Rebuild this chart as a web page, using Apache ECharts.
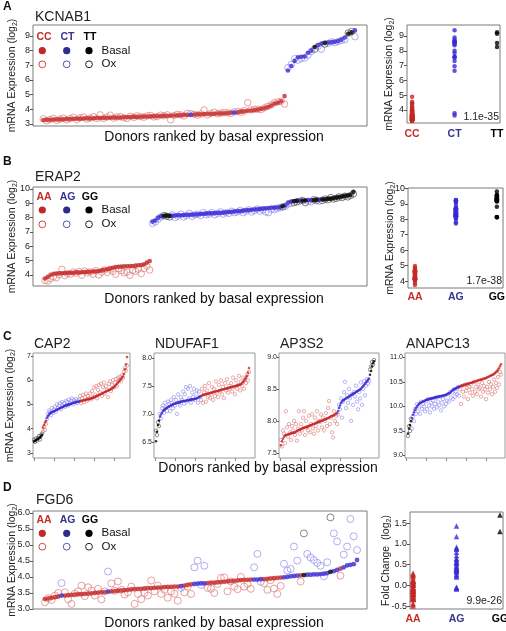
<!DOCTYPE html>
<html><head><meta charset="utf-8">
<script src="https://cdn.jsdelivr.net/npm/echarts@6.0.0/dist/echarts.min.js"></script>
<style>html,body{margin:0;padding:0;background:#fff}#c{width:506px;height:631px}</style>
</head><body><div id="c"></div>
<script>
// ---------------- DATA ----------------
// genotype codes: 0 = CC/AA (red), 1 = CT/AG (blue), 2 = TT/GG (black)
const kcnab1Basal=[3.27,3.28,3.29,3.30,3.30,3.31,3.32,3.33,3.34,3.35,
 3.35,3.36,3.37,3.38,3.38,3.39,3.40,3.40,3.41,3.42,
 3.42,3.43,3.44,3.44,3.45,3.46,3.47,3.48,3.48,3.49,
 3.50,3.51,3.52,3.52,3.53,3.54,3.55,3.56,3.57,3.58,
 3.59,3.60,3.61,3.62,3.63,3.64,3.65,3.66,3.67,3.68,
 3.69,3.70,3.71,3.72,3.73,3.74,3.76,3.78,3.80,3.84,
 3.87,3.90,3.92,3.95,3.98,4.02,4.08,4.15,4.25,4.40,
 4.45,4.55,4.90,6.65,6.95,7.30,7.55,7.58,7.60,7.85,
 8.00,8.25,8.38,8.48,8.52,8.55,8.58,8.60,8.65,8.75,
 8.90,9.15,9.25,9.38];
const kcnab1Ox=[3.35,3.22,3.30,3.38,3.25,3.33,3.40,3.28,3.36,3.45,
 3.30,3.42,3.48,3.33,3.40,3.50,3.36,3.62,3.38,3.47,
 3.60,3.40,3.48,3.50,3.42,3.38,3.52,3.45,3.55,3.50,
 3.46,3.55,3.58,3.48,3.50,3.60,3.55,3.62,3.28,3.58,
 3.65,3.62,3.55,3.72,3.70,3.66,3.60,3.68,3.95,3.62,
 3.72,3.80,3.70,3.74,3.78,3.76,3.72,3.82,3.85,3.80,
 3.90,4.45,3.95,4.00,4.00,3.98,4.10,4.20,4.30,4.45,
 4.50,4.55,4.35,6.85,7.05,7.45,7.35,7.45,7.50,7.70,
 7.95,8.10,8.30,8.10,8.45,8.50,8.60,8.55,8.62,8.70,
 8.75,9.20,9.30,8.95];
const kcnab1Geno='0000000000 0000000000 0000000000 0000000000 0000100000 0000000100 0000000000 0001111111 1211211111 1221';
const kcnab1Labels=['CC','CT','TT'];

const erap2Basal=[3.75,3.88,4.02,4.08,4.10,4.11,4.12,4.13,4.14,4.15,
 4.16,4.17,4.18,4.19,4.20,4.21,4.22,4.24,4.26,4.28,
 4.32,4.36,4.40,4.44,4.50,4.55,4.57,4.58,4.60,4.61,
 4.62,4.63,4.65,4.68,4.70,4.74,4.86,4.98,7.72,7.80,
 8.00,8.10,8.13,8.14,8.12,8.14,8.15,8.16,8.17,8.18,
 8.19,8.20,8.21,8.22,8.23,8.25,8.27,8.28,8.30,8.31,
 8.32,8.33,8.34,8.35,8.37,8.39,8.41,8.43,8.45,8.47,
 8.49,8.51,8.53,8.55,8.57,8.59,8.61,8.63,8.65,8.67,
 8.69,8.70,8.71,8.72,8.80,8.86,9.05,9.12,9.15,9.17,
 9.18,9.19,9.20,9.21,9.22,9.23,9.24,9.25,9.27,9.29,
 9.31,9.33,9.36,9.40,9.44,9.48,9.52,9.55,9.58,9.80];
const erap2Ox=[3.62,3.58,3.75,3.88,3.80,4.02,4.40,3.95,4.10,4.05,
 4.20,4.12,4.25,3.98,4.28,4.15,4.22,4.05,4.30,4.00,
 4.20,4.35,4.18,4.40,4.25,4.05,4.45,4.30,4.15,4.20,
 3.98,4.32,4.25,4.40,4.10,4.45,4.62,4.35,7.60,7.70,
 7.90,8.05,8.15,8.10,8.05,8.20,8.00,8.10,8.25,8.05,
 8.15,8.30,8.10,8.20,8.25,8.15,8.35,8.20,8.25,8.35,
 8.20,8.30,8.40,8.25,8.35,8.30,8.45,8.35,8.40,8.50,
 8.35,8.45,8.55,8.40,8.50,8.60,8.45,8.55,8.40,8.35,
 8.60,8.55,8.65,8.70,8.75,8.80,8.95,9.00,9.05,9.10,
 9.15,9.20,9.05,9.15,9.10,9.25,9.20,9.15,9.20,9.30,
 9.25,9.40,9.30,9.35,9.45,9.40,9.50,9.45,9.55,9.65];
const erap2Geno='0000000000 0000000000 0000000000 0000000011 1122211111 1111111111 1111111111 1111111111 1111211122 1221122122 2222222222';
const abLabels=['AA','AG','GG'];

const cap2Basal=[3.47,3.50,3.52,3.55,3.58,3.60,3.63,3.68,3.75,4.05,
 4.15,4.25,4.32,4.45,4.52,4.58,4.62,4.66,4.68,4.70,
 4.72,4.74,4.76,4.78,4.80,4.82,4.84,4.86,4.88,4.90,
 4.92,4.94,4.96,4.97,4.98,5.00,5.01,5.03,5.04,5.06,
 5.07,5.08,5.09,5.10,5.11,5.12,5.13,5.14,5.15,5.16,
 5.17,5.18,5.19,5.20,5.21,5.22,5.23,5.24,5.26,5.27,
 5.29,5.31,5.33,5.35,5.37,5.39,5.41,5.43,5.45,5.47,
 5.49,5.51,5.53,5.55,5.57,5.59,5.61,5.63,5.66,5.69,
 5.72,5.76,5.80,5.85,5.90,5.95,6.00,6.05,6.10,6.15,
 6.25,6.45,6.65,6.95];
const cap2Ox=[3.55,3.45,3.60,3.50,3.62,3.70,3.55,3.72,3.80,3.88,
 4.05,3.95,4.20,4.40,4.60,4.75,4.70,4.55,4.85,4.65,
 4.80,4.90,4.70,5.00,4.85,4.95,5.05,4.80,5.10,4.95,
 5.05,4.90,5.15,5.10,4.95,5.20,5.05,5.15,5.25,5.00,
 5.18,5.10,5.22,5.05,5.15,5.20,5.35,5.05,5.25,5.40,
 5.10,5.30,5.45,5.15,5.35,5.25,5.45,5.20,5.55,5.30,
 5.70,5.40,5.75,5.25,5.60,5.80,5.50,5.85,5.35,5.70,
 5.90,5.45,5.75,5.60,5.30,5.85,5.95,5.55,5.80,6.00,
 5.70,5.90,6.05,5.75,6.10,6.00,6.15,5.95,6.20,6.10,
 6.35,6.50,6.40,6.60];
const cap2Geno='2222222220 0001111111 1111111111 1111111111 1111110000 0000000000 0000000000 0000000000 0000000000 0000';

const ndufaf1Basal=[6.51,6.68,6.80,6.88,6.95,6.99,7.02,7.05,7.07,7.08,
 7.10,7.11,7.12,7.13,7.14,7.15,7.16,7.17,7.18,7.18,
 7.19,7.20,7.20,7.21,7.21,7.22,7.22,7.23,7.23,7.23,
 7.24,7.24,7.24,7.25,7.25,7.25,7.26,7.26,7.26,7.27,
 7.27,7.28,7.29,7.30,7.31,7.32,7.33,7.34,7.34,7.35,
 7.35,7.36,7.36,7.37,7.37,7.38,7.38,7.39,7.39,7.40,
 7.40,7.41,7.41,7.42,7.42,7.43,7.43,7.44,7.44,7.45,
 7.45,7.46,7.46,7.47,7.47,7.48,7.48,7.49,7.49,7.50,
 7.50,7.51,7.51,7.52,7.52,7.53,7.55,7.57,7.59,7.62,
 7.65,7.68,7.74,7.82];
const ndufaf1Ox=[6.70,6.62,6.85,6.78,7.00,6.92,7.10,7.15,7.02,7.20,
 7.12,7.05,7.22,7.18,7.05,7.25,7.20,7.10,7.30,7.15,
 7.25,7.00,7.35,7.20,7.15,7.30,7.25,7.40,7.18,7.35,
 7.48,7.22,7.45,7.28,7.50,7.20,7.38,7.30,7.45,7.25,
 7.35,7.42,7.20,7.40,7.30,7.25,7.45,7.20,7.38,7.50,
 7.22,7.42,7.30,7.55,7.28,7.35,7.48,7.25,7.45,7.32,
 7.58,7.38,7.30,7.52,7.40,7.60,7.35,7.48,7.28,7.55,
 7.42,7.62,7.38,7.50,7.45,7.55,7.40,7.65,7.48,7.35,
 7.60,7.45,7.52,7.68,7.42,7.58,7.50,7.65,7.45,7.62,
 7.55,7.70,7.60,7.75];
const ndufaf1Geno='2222111111 1111111111 1111111111 1111111111 1111100000 0000000000 0000000000 0000000000 0000000000 0000';

const ap3s2Basal=[7.62,7.68,7.72,7.75,7.77,7.78,7.78,7.79,7.79,7.80,
 7.80,7.81,7.81,7.82,7.82,7.83,7.84,7.85,7.86,7.86,
 7.87,7.88,7.89,7.89,7.90,7.90,7.91,7.91,7.92,7.93,
 7.93,7.94,7.95,7.95,7.96,7.97,7.97,7.98,7.99,7.99,
 8.00,8.00,8.01,8.02,8.02,8.03,8.04,8.04,8.05,8.06,
 8.07,8.08,8.08,8.09,8.10,8.11,8.12,8.15,8.20,8.24,
 8.28,8.30,8.32,8.33,8.34,8.35,8.36,8.37,8.38,8.39,
 8.40,8.41,8.42,8.43,8.44,8.45,8.46,8.47,8.48,8.49,
 8.50,8.52,8.54,8.56,8.58,8.60,8.62,8.64,8.66,8.72,
 8.78,8.85,8.90,8.93];
const ap3s2Ox=[7.70,7.60,7.85,7.80,7.65,8.15,7.90,7.75,7.95,7.82,
 7.70,7.92,7.85,8.00,7.78,7.95,7.69,7.88,8.15,7.80,
 7.95,7.85,8.05,8.15,7.78,8.00,7.90,7.85,8.08,7.82,
 7.95,8.10,7.88,7.80,8.05,7.92,8.15,7.85,8.00,7.98,
 8.10,7.90,8.05,7.85,8.00,8.12,7.92,8.20,8.31,7.95,
 8.05,7.82,7.74,8.15,8.00,8.08,7.95,8.10,8.25,8.18,
 8.35,8.05,8.30,8.45,8.61,8.20,8.40,8.28,8.50,8.35,
 8.00,8.42,8.25,8.45,8.38,8.55,8.30,8.18,8.45,8.35,
 8.60,8.25,8.50,8.62,8.40,8.55,8.65,8.58,8.62,8.80,
 8.85,8.92,8.88,8.95];
const ap3s2Geno='0000000000 0000000000 0000000000 0000000000 0000000000 0000000111 1111111111 1111111111 1111111112 2222';

const anapc13Basal=[9.45,9.55,9.62,9.70,9.76,9.83,9.88,9.93,9.97,10.00,
 10.03,10.05,10.07,10.08,10.09,10.10,10.11,10.12,10.13,10.14,
 10.14,10.15,10.16,10.16,10.17,10.17,10.18,10.18,10.19,10.19,
 10.20,10.20,10.21,10.21,10.22,10.22,10.23,10.23,10.24,10.25,
 10.26,10.27,10.28,10.30,10.32,10.34,10.35,10.36,10.37,10.38,
 10.39,10.40,10.41,10.42,10.42,10.43,10.44,10.44,10.45,10.46,
 10.46,10.47,10.48,10.48,10.49,10.50,10.50,10.51,10.52,10.52,
 10.53,10.54,10.54,10.55,10.55,10.56,10.57,10.57,10.58,10.59,
 10.60,10.61,10.62,10.63,10.64,10.65,10.66,10.68,10.70,10.72,
 10.75,10.78,10.82,10.86];
const anapc13Ox=[9.40,9.60,9.50,9.75,9.55,9.80,9.70,9.95,9.85,10.05,
 9.90,10.00,9.85,10.10,9.95,10.05,10.00,9.90,10.10,9.95,
 10.15,10.02,9.88,10.08,10.00,10.12,9.95,10.05,10.18,9.98,
 10.10,10.02,10.20,9.92,10.08,10.15,10.00,10.22,10.05,10.12,
 10.25,10.10,10.30,10.18,10.28,10.15,10.35,10.20,10.30,10.25,
 10.40,10.22,10.35,10.05,10.42,10.30,10.20,10.45,10.32,10.38,
 10.15,10.40,10.28,10.45,10.35,10.22,10.50,10.30,10.40,10.25,
 10.45,10.35,10.38,10.20,10.48,10.30,10.42,10.35,10.15,10.40,
 10.28,10.50,10.35,10.45,10.25,10.40,10.55,10.30,10.48,10.38,
 10.60,10.45,10.70,10.65];
const anapc13Geno='2222111111 1111111111 1111111111 1111111111 1111111111 1100000000 0000000000 0000000000 0000000000 0000';

const fgd6Basal=[3.31,3.33,3.35,3.37,3.39,3.42,3.42,3.43,3.44,3.45,
 3.46,3.46,3.47,3.48,3.49,3.50,3.51,3.52,3.53,3.54,
 3.55,3.56,3.57,3.58,3.59,3.60,3.61,3.62,3.63,3.63,
 3.64,3.65,3.65,3.66,3.67,3.67,3.68,3.69,3.69,3.70,
 3.70,3.71,3.73,3.75,3.77,3.78,3.79,3.80,3.80,3.81,
 3.82,3.82,3.83,3.84,3.85,3.86,3.87,3.88,3.89,3.90,
 3.91,3.91,3.92,3.92,3.92,3.93,3.93,3.94,3.95,3.96,
 3.97,3.98,3.99,4.00,4.02,4.03,4.04,4.05,4.06,4.07,
 4.07,4.08,4.08,4.09,4.10,4.12,4.16,4.18,4.22,4.26,
 4.30,4.36,4.38,4.40,4.53];
const fgd6Ox=[3.21,3.34,3.28,3.42,3.50,3.81,3.52,3.30,3.16,3.48,
 3.55,3.73,3.40,3.68,3.58,3.42,3.63,3.30,3.55,4.17,
 3.80,3.57,3.86,3.60,3.45,3.52,3.70,3.16,3.47,3.31,
 3.50,3.42,3.89,3.55,3.73,3.47,3.60,3.35,3.55,3.48,
 3.26,3.66,3.52,3.70,3.47,4.30,4.51,3.75,4.35,3.66,
 3.63,3.50,3.78,3.97,3.99,3.55,3.86,3.70,3.62,4.00,
 3.70,3.78,3.63,4.30,4.72,3.85,3.80,3.60,3.90,3.64,
 3.47,3.72,4.41,4.20,4.25,4.95,4.51,3.86,5.36,4.72,
 4.61,4.53,4.44,4.35,4.02,4.46,5.86,5.36,5.11,4.04,
 4.70,4.95,5.81,5.27,4.84];
const fgd6Geno='0000010000 0000000001 0000000000 0000000000 0100011110 0000000000 0001110000 0011111021 1111112110 11111';

const pKCNAB1='1.1e-35', pERAP2='1.7e-38', pFGD6='9.9e-26';
const xTitle='Donors ranked by basal expression';

// ---------------- DRAWING ----------------
const FONT="'Liberation Sans', Arial, Helvetica, sans-serif";
const RANK0=10; // donor rank of the first donor on the x axis
const BAS=['#c62828','#3b2bd3','#000000'];
const OXC=['#de7c7c','#928dea','#555555'];
const LBL=['#c3302c','#37348f','#000000'];
const LEGF=['#c0282a','#2d2b8e','#000000'];
const LEGO=['#cc4a44','#5451b0','#222222'];
const grids=[],xAxes=[],yAxes=[],series=[],graphics=[];
const clean=s=>s.replace(/\s+/g,'');
function pts(vals,geno,k){const g=clean(geno),d=[];vals.forEach((v,i)=>{if(+g[i]===k)d.push([i+RANK0,v]);});return d;}
function groups(vals,geno){const g=clean(geno),r=[[],[],[]];vals.forEach((v,i)=>r[+g[i]].push(v));return r;}
function txt(x,y,s,size,o){o=o||{};graphics.push({type:'text',x:x,y:y,silent:true,z:100,style:{text:s,fill:o.color||'#111',font:(o.bold?'bold ':'')+size+'px '+FONT,textAlign:o.align||'left',textVerticalAlign:'middle'}});}
function addGrid(b,bc){grids.push({left:b[0],top:b[1],width:b[2],height:b[3],show:true,borderColor:bc||'#7a7a7a',borderWidth:1,backgroundColor:'#fff',containLabel:false,outerBoundsMode:'none'});return grids.length-1;}
function ynameStyle(fs){return {color:'#222',fontSize:fs,rich:{a:{fontSize:fs,color:'#222',lineHeight:fs+3},s:{fontSize:Math.round(fs*0.65),color:'#222',lineHeight:fs+3,verticalAlign:'bottom'}}};}
const YN='{a|mRNA Expression (log}{s|2}{a|)}';
const fmt1=v=>v.toFixed(1), fmt0=v=>String(Math.round(v));

function yAxisCfg(g,o){
  return {gridIndex:g,type:'value',min:o.y[0],max:o.y[1],position:'left',axisLine:{show:false,onZero:false},splitLine:{show:false},
    axisTick:{show:true,customValues:o.yt,length:o.tl||3,lineStyle:{color:'#555'}},
    axisLabel:{customValues:o.yt,fontSize:o.fs||9,color:'#222',margin:o.lm||3,formatter:o.fmt||fmt0},
    name:o.yn||'',nameLocation:'middle',nameRotate:90,nameGap:o.ng||15,nameMoveOverlap:false,nameTextStyle:ynameStyle(o.nfs||10.5)};
}
function panel(o){
  const g=addGrid(o.box,o.bc);
  xAxes.push({gridIndex:g,type:'value',min:o.x[0]+RANK0,max:o.x[1]+RANK0,position:'bottom',axisLine:{show:false,onZero:false},splitLine:{show:false},axisLabel:{show:false},
    axisTick:o.xt?{show:true,customValues:o.xt.map(v=>v+RANK0),length:3,lineStyle:{color:'#888'}}:{show:false}});
  yAxes.push(yAxisCfg(g,o));
  [0,1,2].forEach(k=>series.push({type:'scatter',xAxisIndex:g,yAxisIndex:g,silent:true,symbol:'circle',symbolSize:o.os,
    itemStyle:{color:'rgba(0,0,0,0)',borderColor:OXC[k],borderWidth:o.ow||0.9},data:pts(o.ox,o.geno,k)}));
  [0,1,2].forEach(k=>series.push({type:'scatter',xAxisIndex:g,yAxisIndex:g,silent:true,symbol:'circle',symbolSize:o.bs,
    itemStyle:{color:BAS[k]},data:pts(o.basal,o.geno,k)}));
}
function strip(o){
  const g=addGrid(o.box);
  xAxes.push({gridIndex:g,type:'value',min:o.x[0],max:o.x[1],position:'bottom',axisLine:{show:false,onZero:false},splitLine:{show:false},axisTick:{show:false},
    axisLabel:{customValues:[1,2,3],margin:o.xm||5,formatter:v=>'{g'+v+'|'+o.labels[v-1]+'}',
      rich:{g1:{color:LBL[0],fontWeight:'bold',fontSize:10.5},g2:{color:LBL[1],fontWeight:'bold',fontSize:10.5},g3:{color:LBL[2],fontWeight:'bold',fontSize:10.5}}}});
  yAxes.push(yAxisCfg(g,o));
  o.groups.forEach((arr,k)=>series.push({type:'scatter',xAxisIndex:g,yAxisIndex:g,silent:true,symbol:o.sym||'circle',symbolSize:o.ss||4.5,
    itemStyle:{color:BAS[k]},data:arr.map(v=>[k+1,v])}));
  txt(o.box[0]+o.box[2]-1,o.py,o.p,10.5,{align:'right',color:'#222'});
}
function legend(y0,labels,dy1,dy2){
  const cx=[42.3,66.7,89],lx=[44,67.5,90];
  labels.forEach((l,k)=>{
    txt(lx[k],y0,l,10.5,{bold:true,color:LBL[k],align:'center'});
    graphics.push({type:'circle',silent:true,z:100,shape:{cx:cx[k],cy:y0+dy1,r:3.6},style:{fill:LEGF[k]}});
    graphics.push({type:'circle',silent:true,z:100,shape:{cx:cx[k],cy:y0+dy2,r:3.4},style:{fill:'none',stroke:LEGO[k],lineWidth:1}});
  });
  txt(101.5,y0+dy1,'Basal',11.5); txt(101.5,y0+dy2,'Ox',11.5);
}
const I=(a,b,s)=>{const r=[];for(let v=a;v<=b+1e-9;v+=s)r.push(+v.toFixed(2));return r;};

// Panel A
txt(3,7,'A',12,{bold:true}); txt(35,17,'KCNAB1',14,{color:'#222'});
panel({box:[33,25,334,101],x:[-3.07,96.6],y:[2.86,9.75],yt:I(3,9,1),basal:kcnab1Basal,ox:kcnab1Ox,geno:kcnab1Geno,bs:4.6,os:6.5,yn:YN,ng:14});
legend(37.3,kcnab1Labels,13.4,27);
txt(214,137,xTitle,14,{align:'center',color:'#111'});
strip({box:[407,25,93,98],x:[0.88,3.07],y:[3.12,9.74],yt:I(4,9,1),groups:groups(kcnab1Basal,kcnab1Geno),labels:kcnab1Labels,yn:YN,ng:11,p:pKCNAB1,py:117.5,xm:6});

// Panel B
txt(3,162,'B',12,{bold:true}); txt(35,177,'ERAP2',14,{color:'#222'});
panel({box:[33,187,334,99],x:[-4.24,113.8],y:[3.23,10.14],yt:I(4,10,1),basal:erap2Basal,ox:erap2Ox,geno:erap2Geno,bs:4.6,os:6.5,yn:YN,ng:14});
legend(196.7,abLabels,13.3,27.6);
txt(214,299,xTitle,14,{align:'center',color:'#111'});
strip({box:[408,188,95,100],x:[0.83,3.15],y:[3.55,10.02],yt:I(4,10,1),groups:groups(erap2Basal,erap2Geno),labels:abLabels,yn:YN,ng:11,p:pERAP2,py:281,xm:4});

// Panel C
txt(3,337,'C',12,{bold:true});
const cPanels=[
  {name:'CAP2',box:[33,353,97,105],x:[-1,96],y:[2.79,7.12],yt:I(3,7,1),fmt:fmt0,basal:cap2Basal,ox:cap2Ox,geno:cap2Geno,yn:YN,ng:16},
  {name:'NDUFAF1',box:[154,353,101,105],x:[-2,99],y:[6.21,8.09],yt:I(6.5,8,0.5),fmt:fmt1,basal:ndufaf1Basal,ox:ndufaf1Ox,geno:ndufaf1Geno},
  {name:'AP3S2',box:[279,353,100,105],x:[-2,98],y:[7.42,9.06],yt:I(7.5,9,0.5),fmt:fmt1,basal:ap3s2Basal,ox:ap3s2Ox,geno:ap3s2Geno},
  {name:'ANAPC13',box:[405,353,100,105],x:[-3,97],y:[8.95,11.09],yt:I(9,11,0.5),fmt:fmt1,basal:anapc13Basal,ox:anapc13Ox,geno:anapc13Geno}
];
cPanels.forEach(c=>{
  txt(c.box[0]+1,344,c.name,14,{color:'#222'});
  panel(Object.assign({bc:'#9a9a9a',bs:2.6,os:3.4,ow:0.8,fs:7,lm:2,tl:2,nfs:10.5,xt:[0,1,2,3,4].map(k=>c.x[0]+1+20*k)},c));
});
txt(268,468,xTitle,14,{align:'center',color:'#111'});

// Panel D
txt(3,488,'D',12,{bold:true}); txt(36,500,'FGD6',14,{color:'#222'});
panel({box:[33,511,334,98],x:[-3.6,97.0],y:[3.0,6.06],yt:I(3,6,0.5),fmt:fmt1,basal:fgd6Basal,ox:fgd6Ox,geno:fgd6Geno,bs:4.8,os:7,yn:YN,ng:14});
legend(520,abLabels,13.3,26.7);
txt(214,623,xTitle,14,{align:'center',color:'#111'});
const fgd6Fold=groups(fgd6Ox.map((v,i)=>+(v-fgd6Basal[i]).toFixed(2)),fgd6Geno);
strip({box:[410,512,93,97],x:[0.93,3.07],y:[-0.57,1.77],yt:I(-0.5,1.5,0.5),fmt:fmt1,groups:fgd6Fold,labels:abLabels,
  yn:'{a|Fold Change  (log}{s|2}{a|)}',ng:17,p:pFGD6,py:601,sym:'triangle',ss:5.5,xm:5});

const chart=echarts.init(document.getElementById('c'),null,{renderer:'canvas'});
chart.setOption({animation:false,backgroundColor:'#fff',textStyle:{fontFamily:FONT},
  grid:grids,xAxis:xAxes,yAxis:yAxes,series:series,graphic:{elements:graphics}});
</script></body></html>
